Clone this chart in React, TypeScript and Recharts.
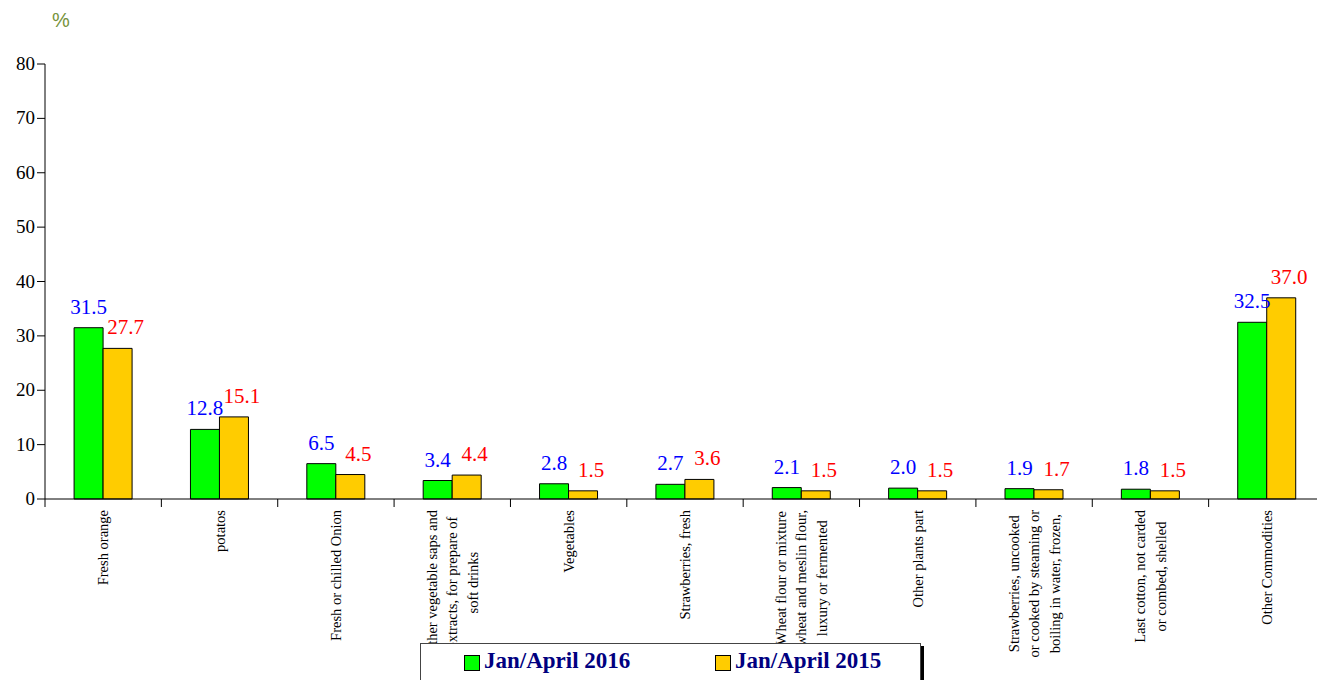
import { BarChart, Bar, XAxis, YAxis, LabelList } from 'recharts'

const categories = [
  'Fresh orange',
  'potatos',
  'Fresh or chilled Onion',
  'Other vegetable saps and\nextracts, for prepare of\nsoft drinks',
  'Vegetables',
  'Strawberries, fresh',
  'Wheat flour or mixture\nwheat and meslin flour,\nluxury or fermented',
  'Other plants part',
  'Strawberries, uncooked\nor cooked by steaming or\nboiling in water, frozen,',
  'Last cotton, not carded\nor combed, shelled',
  'Other Commodities',
]

const jan2016 = [31.5, 12.8, 6.5, 3.4, 2.8, 2.7, 2.1, 2.0, 1.9, 1.8, 32.5]
const jan2015 = [27.7, 15.1, 4.5, 4.4, 1.5, 3.6, 1.5, 1.5, 1.7, 1.5, 37.0]

const yTicks = [0, 10, 20, 30, 40, 50, 60, 70, 80]

const data = categories.map((name, i) => ({
  name,
  y2016: jan2016[i],
  y2015: jan2015[i],
}))

const SERIF = "'Liberation Serif', 'Times New Roman', serif"
const TICK_FONT = 14.5

let measureCtx: CanvasRenderingContext2D | null = null
function textWidth(s: string) {
  if (!measureCtx) measureCtx = document.createElement('canvas').getContext('2d')
  if (!measureCtx) return s.length * TICK_FONT * 0.45
  measureCtx.font = `${TICK_FONT}px ${SERIF}`
  return measureCtx.measureText(s).width
}

// category labels: rotated, lines centred on the longest one, plus band boundary ticks
function CategoryTick(props: any) {
  const { x, y, payload, index } = props
  const half = payload?.offset || 58.2
  const lines = String(payload.value).split('\n')
  const maxW = Math.max(...lines.map(textWidth))
  const u = -(11 + maxW / 2)
  const step = 20.5
  return (
    <g>
      <line x1={x - half} y1={y} x2={x - half} y2={y + 8} stroke="#000" />
      {index === categories.length - 1 && (
        <line x1={x + half} y1={y} x2={x + half} y2={y + 8} stroke="#000" />
      )}
      <g transform={`translate(${x},${y})`}>
        <text transform="rotate(-90)" textAnchor="middle" style={{ fontFamily: SERIF, fontSize: TICK_FONT }} fill="#000">
          {lines.map((l, i) => (
            <tspan key={i} x={u} y={(i - (lines.length - 1) / 2) * step + 5}>
              {l}
            </tspan>
          ))}
        </text>
      </g>
    </g>
  )
}

function ValueTick(props: any) {
  const { x, y, payload } = props
  return (
    <text x={x} y={y} dy={6} textAnchor="end" fill="#000" style={{ fontFamily: SERIF, fontSize: 19 }}>
      {payload.value}
    </text>
  )
}

const valueLabel = (color: string, dx: number) => (p: any) => {
  const x = Number(p.x)
  const y = Number(p.y)
  const w = Number(p.width)
  return (
    <text x={x + w / 2 + dx} y={y - 14} textAnchor="middle" fill={color} style={{ fontFamily: SERIF, fontSize: 21 }}>
      {Number(p.value).toFixed(1)}
    </text>
  )
}

export default function App() {
  return (
    <div style={{ position: 'absolute', left: 0, top: 0, width: 1317, height: 680, overflow: 'hidden', background: '#fff' }}>
      <div style={{ position: 'absolute', left: 52, top: 9, fontFamily: "'Liberation Sans', Arial, sans-serif", fontSize: 20, color: '#76923c' }}>
        %
      </div>
      <BarChart
        width={1325}
        height={680}
        data={data}
        margin={{ top: 64, right: 0, left: 0, bottom: 0 }}
        barCategoryGap="25%"
        barGap={0}
      >
        <YAxis
          width={45}
          domain={[0, 80]}
          ticks={yTicks}
          tickSize={8}
          tickMargin={2}
          axisLine={{ stroke: '#000' }}
          tickLine={{ stroke: '#000' }}
          tick={<ValueTick />}
        />
        <XAxis
          dataKey="name"
          interval={0}
          height={181}
          tickSize={0}
          tickMargin={0}
          tickLine={false}
          axisLine={{ stroke: '#000' }}
          tick={<CategoryTick />}
        />
        <Bar dataKey="y2016" fill="#00ff00" stroke="#000" strokeWidth={1} isAnimationActive={false}>
          <LabelList dataKey="y2016" content={valueLabel('#0000ff', 0)} />
        </Bar>
        <Bar dataKey="y2015" fill="#ffcc00" stroke="#000" strokeWidth={1} isAnimationActive={false}>
          <LabelList dataKey="y2015" content={valueLabel('#ff0000', 8)} />
        </Bar>
      </BarChart>
      <div
        style={{
          position: 'absolute',
          left: 420,
          top: 643,
          width: 499,
          height: 60,
          border: '1px solid #444',
          boxShadow: '3px 3px 0 #000',
          background: '#fff',
          fontFamily: SERIF,
          fontWeight: 'bold',
          fontSize: 23,
          color: '#000080',
        }}
      >
        <div style={{ position: 'absolute', left: 43, top: 11, width: 14, height: 14, background: '#00ff00', border: '1px solid #000' }} />
        <div style={{ position: 'absolute', left: 63, top: 4, whiteSpace: 'nowrap' }}>Jan/April 2016</div>
        <div style={{ position: 'absolute', left: 294, top: 11, width: 14, height: 14, background: '#ffcc00', border: '1px solid #000' }} />
        <div style={{ position: 'absolute', left: 314, top: 4, whiteSpace: 'nowrap' }}>Jan/April 2015</div>
      </div>
    </div>
  )
}
